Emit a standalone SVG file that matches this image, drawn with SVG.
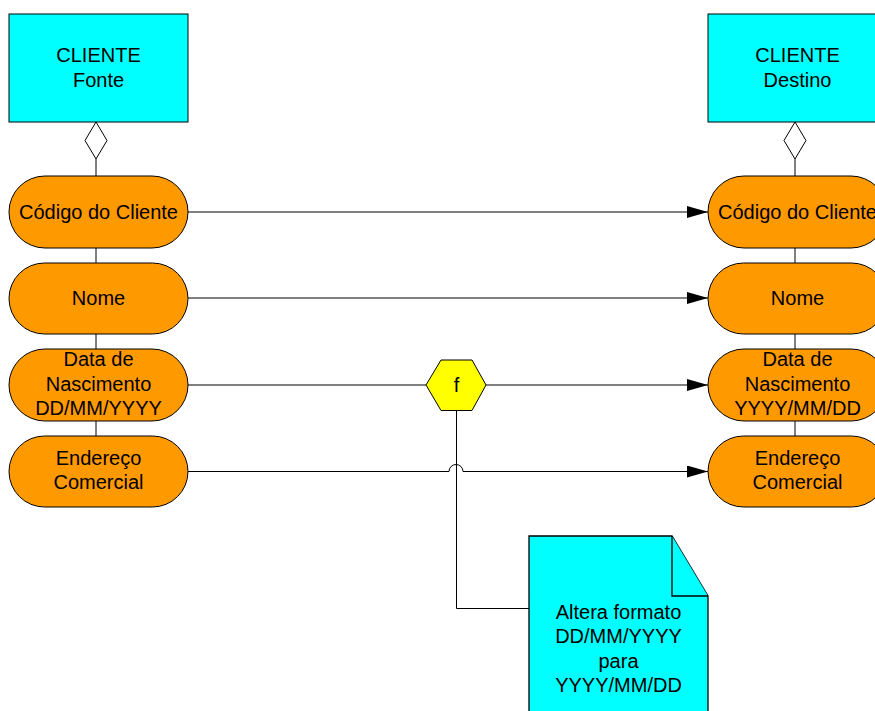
<svg xmlns="http://www.w3.org/2000/svg" width="875" height="711" viewBox="0 0 875 711">
  <defs>
    <marker id="arrow" markerWidth="21" markerHeight="12" refX="21" refY="6" orient="auto" markerUnits="userSpaceOnUse">
      <path d="M0,0 L21,6 L0,12 Z" fill="#000"/>
    </marker>
  </defs>
  <style>
    text { font-family: "Liberation Sans", Arial, sans-serif; font-size: 20px; fill: #000; text-anchor: middle; }
    .entity { fill: #00ffff; stroke: #000; stroke-width: 1; }
    .attr { fill: #ff9900; stroke: #000; stroke-width: 1; }
    .func { fill: #ffff00; stroke: #000; stroke-width: 1; }
    .note { fill: #00ffff; stroke: #000; stroke-width: 1.3; }
    .link { fill: none; stroke: #000; stroke-width: 1; }
    .agg { fill: #fff; stroke: #000; stroke-width: 1; }
  </style>
  <rect width="875" height="711" fill="#fff"/>

  <!-- connectors -->
  <g id="connectors">
    <!-- aggregation links between entity and its attributes -->
    <line class="link" x1="96" y1="159" x2="96" y2="176"/>
    <line class="link" x1="96" y1="248" x2="96" y2="263"/>
    <line class="link" x1="96" y1="334" x2="96" y2="349"/>
    <line class="link" x1="96" y1="421" x2="96" y2="436"/>
    <polygon class="agg" points="96,122 107,140.5 96,159 85,140.5"/>

    <line class="link" x1="795" y1="159" x2="795" y2="176"/>
    <line class="link" x1="795" y1="248" x2="795" y2="263"/>
    <line class="link" x1="795" y1="334" x2="795" y2="349"/>
    <line class="link" x1="795" y1="421" x2="795" y2="436"/>
    <polygon class="agg" points="795,122 806,140.5 795,159 784,140.5"/>

    <!-- field mappings -->
    <line class="link" x1="188" y1="212" x2="708" y2="212" marker-end="url(#arrow)"/>
    <line class="link" x1="188" y1="298" x2="708" y2="298" marker-end="url(#arrow)"/>
    <line class="link" x1="188" y1="385" x2="426" y2="385"/>
    <line class="link" x1="486" y1="385" x2="708" y2="385" marker-end="url(#arrow)"/>
    <path class="link" d="M188,471.5 H449 A7,7 0 0 1 463,471.5 H708" marker-end="url(#arrow)"/>

    <!-- function to annotation -->
    <path class="link" d="M456.5,411 V608.5 H529"/>
  </g>

  <!-- source entity -->
  <g id="cliente-fonte">
    <rect class="entity" x="9" y="14" width="179" height="108"/>
    <text x="98.5" y="62">CLIENTE</text>
    <text x="98.5" y="87">Fonte</text>
  </g>

  <!-- target entity -->
  <g id="cliente-destino">
    <rect class="entity" x="708" y="14" width="179" height="108"/>
    <text x="797.5" y="62">CLIENTE</text>
    <text x="797.5" y="87">Destino</text>
  </g>

  <!-- source attributes -->
  <g id="fonte-codigo">
    <rect class="attr" x="9" y="176" width="179" height="72" rx="36" ry="36"/>
    <text x="98.5" y="219">Código do Cliente</text>
  </g>
  <g id="fonte-nome">
    <rect class="attr" x="9" y="263" width="179" height="71" rx="35.5" ry="35.5"/>
    <text x="98.5" y="305">Nome</text>
  </g>
  <g id="fonte-nascimento">
    <rect class="attr" x="9" y="349" width="179" height="72" rx="36" ry="36"/>
    <text x="98.5" y="366">Data de</text>
    <text x="98.5" y="391">Nascimento</text>
    <text x="98.5" y="415">DD/MM/YYYY</text>
  </g>
  <g id="fonte-endereco">
    <rect class="attr" x="9" y="436" width="179" height="71" rx="35.5" ry="35.5"/>
    <text x="98.5" y="465">Endereço</text>
    <text x="98.5" y="489">Comercial</text>
  </g>

  <!-- target attributes -->
  <g id="destino-codigo">
    <rect class="attr" x="708" y="176" width="179" height="72" rx="36" ry="36"/>
    <text x="797.5" y="219">Código do Cliente</text>
  </g>
  <g id="destino-nome">
    <rect class="attr" x="708" y="263" width="179" height="71" rx="35.5" ry="35.5"/>
    <text x="797.5" y="305">Nome</text>
  </g>
  <g id="destino-nascimento">
    <rect class="attr" x="708" y="349" width="179" height="72" rx="36" ry="36"/>
    <text x="797.5" y="366">Data de</text>
    <text x="797.5" y="391">Nascimento</text>
    <text x="797.5" y="415">YYYY/MM/DD</text>
  </g>
  <g id="destino-endereco">
    <rect class="attr" x="708" y="436" width="179" height="71" rx="35.5" ry="35.5"/>
    <text x="797.5" y="465">Endereço</text>
    <text x="797.5" y="489">Comercial</text>
  </g>

  <!-- transformation function -->
  <g id="funcao">
    <polygon class="func" points="441,360 472,360 486,385 472,410.5 441,410.5 426,385"/>
    <text x="456.5" y="392">f</text>
  </g>

  <!-- annotation -->
  <g id="nota">
    <path class="note" d="M529,536 H672 L708,596 V720 H529 Z"/>
    <path class="note" d="M672,536 V596 H708"/>
    <text x="618.5" y="619">Altera formato</text>
    <text x="618.5" y="643">DD/MM/YYYY</text>
    <text x="618.5" y="668">para</text>
    <text x="618.5" y="692">YYYY/MM/DD</text>
  </g>
</svg>
